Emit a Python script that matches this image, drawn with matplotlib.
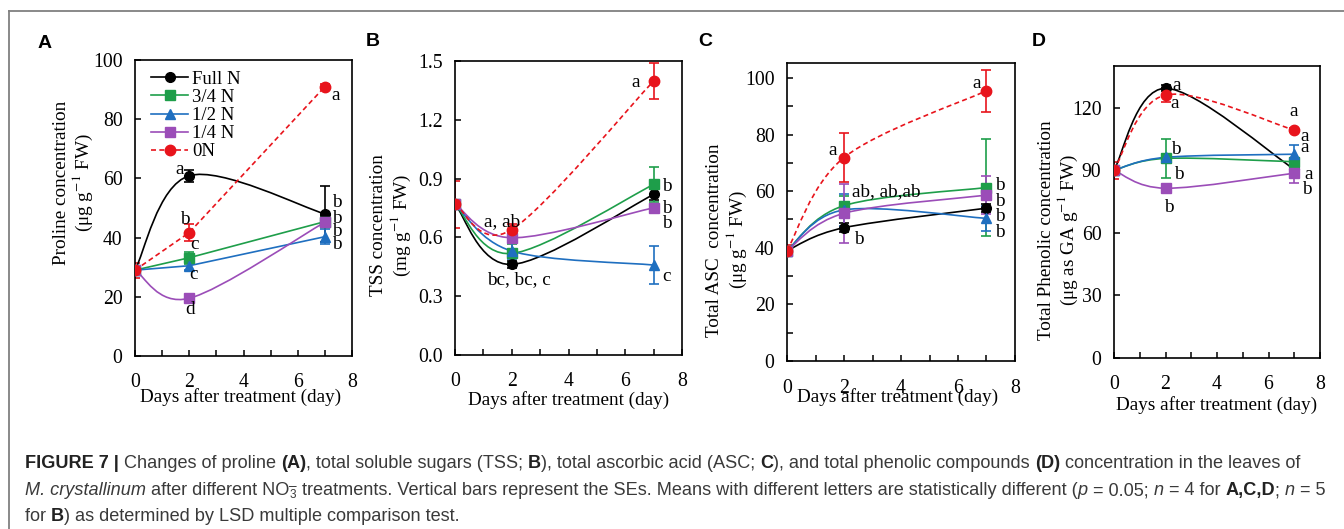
import matplotlib
matplotlib.use('Agg')
import matplotlib.pyplot as plt
from matplotlib.path import Path
from matplotlib.patches import PathPatch
from matplotlib.lines import Line2D
from matplotlib.font_manager import FontProperties
from matplotlib.ticker import FuncFormatter
import numpy as np

# ---------------- data ----------------
days = [0, 2, 7]
treatments = ['Full N', '3/4 N', '1/2 N', '1/4 N', '0N']

proline_mean = {'Full N': [29, 60.9, 48.0], '3/4 N': [29, 33.2, 45.4], '1/2 N': [29, 30.5, 40.3],
                '1/4 N': [29, 19.5, 45.2], '0N': [29, 41.7, 91.0]}
proline_se = {'Full N': [1.0, 2.0, 9.5], '3/4 N': [1.0, 2.0, 1.5], '1/2 N': [1.0, 1.5, 2.5],
              '1/4 N': [1.0, 1.0, 1.5], '0N': [2.5, 2.8, 0.8]}

tss_mean = {'Full N': [0.77, 0.462, 0.819], '3/4 N': [0.77, 0.518, 0.870], '1/2 N': [0.77, 0.53, 0.459],
            '1/4 N': [0.77, 0.598, 0.751], '0N': [0.77, 0.640, 1.398]}
tss_se = {'Full N': [0.02, 0.02, 0.03], '3/4 N': [0.02, 0.05, 0.09], '1/2 N': [0.02, 0.04, 0.095],
          '1/4 N': [0.02, 0.02, 0.02], '0N': [0.12, 0.03, 0.09]}

asc_mean = {'Full N': [39, 47.1, 54.0], '3/4 N': [39, 54.9, 61.3], '1/2 N': [39, 53.4, 50.4],
            '1/4 N': [39, 52.2, 58.6], '0N': [39, 71.9, 95.5]}
asc_se = {'Full N': [1, 1.5, 1.5], '3/4 N': [1, 3.5, 17.0], '1/2 N': [1, 5.6, 4.5],
          '1/4 N': [1, 10.5, 6.8], '0N': [2, 8.5, 7.4]}

phenolic_mean = {'Full N': [90, 129.3, 90.5], '3/4 N': [90, 95.7, 94.1], '1/2 N': [90, 96.2, 97.7],
                 '1/4 N': [90, 81.4, 88.6], '0N': [90, 126.1, 109.3]}
phenolic_se = {'Full N': [1, 1.5, 1.5], '3/4 N': [1, 9.5, 2.0], '1/2 N': [1, 1.5, 4.5],
               '1/4 N': [1, 1.5, 4.5], '0N': [4, 3.5, 1.0]}

letters_A = [("a", 7.4, 88), ("a", 1.63, 63), ("b", 1.83, 46), ("c", 2.2, 37.8), ("c", 2.16, 27.6),
             ("d", 2.04, 15.8), ("b", 7.45, 51.7), ("b", 7.45, 46.6), ("b", 7.45, 41.9), ("b", 7.45, 37.8)]
letters_B = [("a", 6.35, 1.388), ("b", 7.47, 0.858), ("b", 7.47, 0.747), ("b", 7.47, 0.671),
             ("c", 7.47, 0.40), ("a, ab", 1.65, 0.679), ("bc, bc, c", 2.24, 0.386)]
letters_C = [("a", 6.65, 98.0), ("a", 1.59, 74.3), ("ab, ab,ab", 3.47, 59.9), ("b", 2.53, 43.0),
             ("b", 7.45, 62.0), ("b", 7.45, 56.3), ("b", 7.45, 51.0), ("b", 7.45, 45.3)]
letters_D = [("a", 2.43, 130.8), ("a", 2.34, 122), ("a", 6.96, 118.4), ("a", 7.42, 106), ("a", 7.42, 101),
             ("a", 7.55, 88.2), ("b", 7.48, 80.6), ("b", 2.41, 100), ("b", 2.5, 87.8), ("b", 2.14, 72.3)]

# ---------------- style ----------------
colors = {'Full N': '#000000', '3/4 N': '#1e9e4a', '1/2 N': '#1f6fc0', '1/4 N': '#9b4db8', '0N': '#e8141c'}
markers = {'Full N': 'o', '3/4 N': 's', '1/2 N': '^', '1/4 N': 's', '0N': 'o'}
msizes = {'Full N': 7, '3/4 N': 7, '1/2 N': 7, '1/4 N': 7.5, '0N': 7.5}
dash = (0, (3, 2))

serif = 'Liberation Serif'
plt.rcParams['font.family'] = [serif, 'DejaVu Serif']
plt.rcParams['mathtext.fontset'] = 'stix'

LAB = 13.8   # axis label size
TICK = 14.2  # tick label size
LET = 13.8   # significance letters

W, H = 1344, 529
fig = plt.figure(figsize=(W / 100, H / 100), dpi=100)


def px_box(l, r, t, b):
    return [l / W, 1 - b / H, (r - l) / W, (b - t) / H]


def smooth_path(xs, ys):
    # Excel-like smoothed line drawn as cubic bezier segments through the points
    pts = np.column_stack([xs, ys]).astype(float)
    n = len(pts)
    verts = [pts[0]]
    codes = [Path.MOVETO]
    for i in range(n - 1):
        p0 = pts[max(i - 1, 0)]
        p1 = pts[i]
        p2 = pts[i + 1]
        p3 = pts[min(i + 2, n - 1)]
        verts += [p1 + (p2 - p0) / 6.0, p2 - (p3 - p1) / 6.0, p2]
        codes += [Path.CURVE4] * 3
    return Path(verts, codes)


def draw_panel(ax, means, ses, smooth, ylim, yticks, yfmt, ylabel, ylab_pos, xlab_pos, letters,
               yminor=None, xpad=12):
    for tr in treatments:
        c = colors[tr]
        ls = dash if tr == '0N' else '-'
        ax.errorbar(days, means[tr], yerr=ses[tr], fmt='none', ecolor=c, elinewidth=1.2,
                    capsize=3.5, capthick=1.2, zorder=2)
        if smooth[tr]:
            ax.add_patch(PathPatch(smooth_path(days, means[tr]), fill=False, edgecolor=c,
                                   lw=1.2, linestyle=ls, zorder=3))
        else:
            ax.plot(days, means[tr], color=c, lw=1.2, ls=ls, zorder=3)
        ax.plot(days, means[tr], ls='none', marker=markers[tr], ms=msizes[tr], mfc=c, mec=c, zorder=4)

    ax.set_xlim(0, 8)
    ax.set_ylim(*ylim)
    ax.set_xticks(np.arange(0, 9, 1))
    ax.xaxis.set_major_formatter(FuncFormatter(lambda v, p: '%d' % v if int(v) % 2 == 0 else ''))
    ax.set_yticks(yticks)
    ax.yaxis.set_major_formatter(FuncFormatter(lambda v, p: yfmt % v))
    if yminor is not None:
        ax.set_yticks(yminor, minor=True)
    ax.tick_params(axis='both', which='both', direction='in', length=4.5, width=1.1, labelsize=TICK)
    ax.tick_params(axis='x', pad=xpad)
    ax.tick_params(axis='y', pad=9)
    for s in ax.spines.values():
        s.set_linewidth(1.2)
    ax.text(ylab_pos[0], ylab_pos[1], ylabel, transform=ax.transAxes, rotation=90, ha='center',
            va='center', rotation_mode='anchor', multialignment='center', fontsize=LAB, linespacing=1.1)
    ax.text(xlab_pos[0], xlab_pos[1], 'Days after treatment (day)', transform=ax.transAxes,
            ha='center', va='center', fontsize=LAB)
    for txt, x, y in letters:
        ax.text(x, y, txt, ha='center', va='center', fontsize=LET, zorder=5)


all_smooth = {tr: True for tr in treatments}
smooth_A = {'Full N': True, '3/4 N': False, '1/2 N': False, '1/4 N': True, '0N': False}

axA = fig.add_axes(px_box(135, 352, 60, 356))
draw_panel(axA, proline_mean, proline_se, smooth_A, (0, 100), np.arange(0, 101, 20), '%d',
           'Proline concentration\n(\u03bcg g$^{-1}$ FW)', (-0.281, 0.584), (0.488, -0.139), letters_A)
handles = [Line2D([], [], color=colors[tr], marker=markers[tr], ms=msizes[tr], lw=1.2,
                  ls=(dash if tr == '0N' else '-')) for tr in treatments]
axA.legend(handles, treatments, loc='upper left', bbox_to_anchor=(0.03, 0.995), frameon=False,
           fontsize=13.5, handlelength=2.0, handletextpad=0.2, labelspacing=0.05, borderpad=0.0)

axB = fig.add_axes(px_box(455, 682, 61, 355))
draw_panel(axB, tss_mean, tss_se, all_smooth, (0, 1.5), np.arange(0, 1.51, 0.3), '%.1f',
           'TSS concentration\n(mg g$^{-1}$ FW)', (-0.278, 0.442), (0.5, -0.153), letters_B)

axC = fig.add_axes(px_box(787, 1015, 63, 361))
draw_panel(axC, asc_mean, asc_se, all_smooth, (0, 105.3), np.arange(0, 101, 20), '%d',
           'Total ASC  concentration\n(\u03bcg g$^{-1}$ FW)', (-0.263, 0.406), (0.487, -0.121), letters_C,
           yminor=np.arange(10, 101, 20), xpad=13)

axD = fig.add_axes(px_box(1114, 1320, 66, 358))
draw_panel(axD, phenolic_mean, phenolic_se, all_smooth, (0, 140), np.arange(0, 121, 30), '%d',
           'Total Phenolic concentration\n(\u03bcg as GA g$^{-1}$ FW)', (-0.267, 0.438), (0.5, -0.161),
           letters_D)

# panel letters
for lab, x, y in [('A', 45, 43), ('B', 373, 42), ('C', 705, 42), ('D', 1039, 42)]:
    fig.text(x / W, 1 - y / H, lab, ha='center', va='center', fontsize=14, fontweight='bold',
             family=['Liberation Sans', 'DejaVu Sans'])

# frame around the figure area
fig.add_artist(Line2D([9 / W, 1], [1 - 11 / H, 1 - 11 / H], transform=fig.transFigure, color='#808080', lw=1.3))
fig.add_artist(Line2D([9 / W, 9 / W], [0, 1 - 11 / H], transform=fig.transFigure, color='#808080', lw=1.3))

# ---------------- caption ----------------
renderer = fig.canvas.get_renderer()
cap_family = ['Liberation Sans', 'DejaVu Sans']

line1 = [("FIGURE 7 | ", 'bold', 'normal', ''), ("Changes of proline ", 'normal', 'normal', ''),
         ("(A)", 'bold', 'normal', ''), (", total soluble sugars (TSS; ", 'normal', 'normal', ''),
         ("B", 'bold', 'normal', ''), ("), total ascorbic acid (ASC; ", 'normal', 'normal', ''),
         ("C", 'bold', 'normal', ''), ("), and total phenolic compounds ", 'normal', 'normal', ''),
         ("(D)", 'bold', 'normal', ''), (" concentration in the leaves of", 'normal', 'normal', '')]
line2 = [("M. crystallinum", 'normal', 'italic', ''), (" after different NO", 'normal', 'normal', ''),
         ("3", 'normal', 'normal', 'sub'), ("\u2013", 'normal', 'normal', 'sup'),
         (" treatments. Vertical bars represent the SEs. Means with different letters are statistically different (",
          'normal', 'normal', ''),
         ("p", 'normal', 'italic', ''), (" = 0.05; ", 'normal', 'normal', ''), ("n", 'normal', 'italic', ''),
         (" = 4 for ", 'normal', 'normal', ''), ("A,C,D", 'bold', 'normal', ''), ("; ", 'normal', 'normal', ''),
         ("n", 'normal', 'italic', ''), (" = 5", 'normal', 'normal', '')]
line3 = [("for ", 'normal', 'normal', ''), ("B", 'bold', 'normal', ''),
         (") as determined by LSD multiple comparison test.", 'normal', 'normal', '')]


def seg_width(text, size, weight, style):
    fp = FontProperties(family=cap_family, size=size, weight=weight, style=style)
    w1 = renderer.get_text_width_height_descent(text + 'I', fp, ismath=False)[0]
    w2 = renderer.get_text_width_height_descent('I', fp, ismath=False)[0]
    return w1 - w2


def line_width(segs, size):
    w = 0
    for text, weight, style, kind in segs:
        if kind == 'sub':
            continue
        s = size * 0.75 if kind == 'sup' else size
        w += seg_width(text, s, weight, style)
    return w


def caption_line(segs, y_base, size):
    x = 25.0
    for text, weight, style, kind in segs:
        s = size
        dy = 0
        if kind == 'sub':
            s, dy = size * 0.65, 3
        elif kind == 'sup':
            s, dy = size * 0.75, -5
        col = '#222222' if weight == 'bold' else '#3a3a3a'
        fig.text(x / W, 1 - (y_base + dy) / H, text, fontsize=s, fontweight=weight, fontstyle=style,
                 family=cap_family, color=col, ha='left', va='baseline', zorder=5)
        if kind != 'sub':
            x += seg_width(text, s, weight, style)


cap_size = 10.0 * (1308 - 25) / line_width(line1, 10.0)
caption_line(line1, 468, cap_size)
caption_line(line2, 495, cap_size)
caption_line(line3, 521, cap_size)

fig.savefig('out.png', dpi=100)
